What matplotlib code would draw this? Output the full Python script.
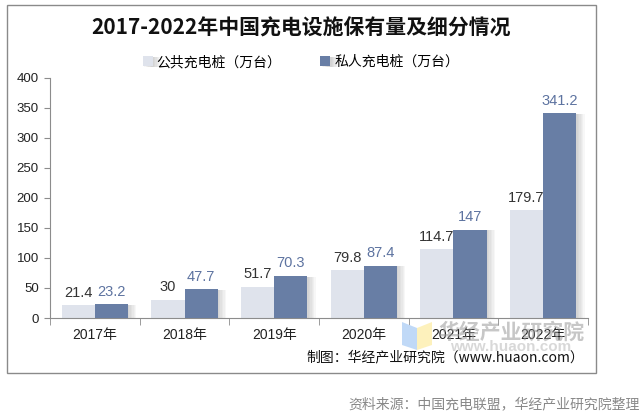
import numpy as np
import matplotlib.pyplot as plt
import matplotlib.patheffects as pe
from matplotlib.patches import Rectangle, Polygon

plt.rcParams['font.family'] = ['Liberation Sans', 'Noto Sans CJK SC', 'DejaVu Sans']

# 数据
years = ['2017年', '2018年', '2019年', '2020年', '2021年', '2022年']
public_piles = [21.4, 30, 51.7, 79.8, 114.7, 179.7]
private_piles = [23.2, 47.7, 70.3, 87.4, 147, 341.2]
public_labels = ['21.4', '30', '51.7', '79.8', '114.7', '179.7']
private_labels = ['23.2', '47.7', '70.3', '87.4', '147', '341.2']

c_public = '#dfe3ec'
c_private = '#687ea5'
c_axis = '#8c8c8c'

fig = plt.figure(figsize=(6.42, 4.19), dpi=100)
W, H = 642, 419

# 外框
fig.patches.append(Rectangle((7 / W, 1 - 373 / H), 589 / W, 368 / H, transform=fig.transFigure,
                             fill=False, edgecolor='#8a8a8a', linewidth=1.0))

ax = fig.add_axes([50 / W, 1 - 318 / H, 538 / W, 240 / H])

x = np.arange(len(years))
bw = 0.37
# 柔和阴影
shadow = [pe.SimplePatchShadow(offset=(k, -0.5), shadow_rgbFace='#666666', alpha=0.05) for k in (1, 2, 3, 4, 5, 6)]
shadow.append(pe.Normal())

b1 = ax.bar(x - bw / 2, public_piles, bw, color=c_public, label='公共充电桩（万台）', zorder=2)
b2 = ax.bar(x + bw / 2, private_piles, bw, color=c_private, label='私人充电桩（万台）', zorder=3)
for b in list(b1) + list(b2):
    b.set_path_effects(shadow)

for xi, v, t in zip(x, public_piles, public_labels):
    ax.annotate(t, (xi - bw / 2, v), xytext=(0, 4), textcoords='offset points',
                ha='center', va='bottom', fontsize=10.5, color='#333333')
for xi, v, t in zip(x, private_piles, private_labels):
    ax.annotate(t, (xi + bw / 2, v), xytext=(0, 4), textcoords='offset points',
                ha='center', va='bottom', fontsize=10.5, color='#5d73a0')

ax.set_xlim(-0.5, len(years) - 0.5)
ax.set_ylim(0, 400)
ax.set_yticks(np.arange(0, 401, 50))
ax.set_xticks(x)
ax.set_xticklabels(years)
ax.set_xticks(np.arange(-0.5, len(years), 1), minor=True)
ax.tick_params(axis='x', which='major', length=0, pad=7, labelsize=10, labelcolor='#222222')
ax.tick_params(axis='x', which='minor', length=5, direction='out', color=c_axis)
ax.tick_params(axis='y', length=4, direction='out', color=c_axis, labelsize=9.5, labelcolor='#222222', pad=4)
for s in ['top', 'right']:
    ax.spines[s].set_visible(False)
for s in ['left', 'bottom']:
    ax.spines[s].set_color(c_axis)

# 标题和图例
fig.text(301 / W, 1 - 28 / H, '2017-2022年中国充电设施保有量及细分情况', ha='center', va='center',
         fontsize=15, fontweight='bold', family=['Noto Sans CJK SC'], color='#111111')
fig.legend(handles=[b1, b2], loc='center', bbox_to_anchor=(301 / W, 1 - 62 / H), ncol=2, frameon=False,
           handlelength=0.7, handleheight=0.7, handletextpad=0.3, columnspacing=2.8,
           prop={'family': ['Noto Sans CJK SC'], 'size': 10})

# 水印
fig.patches.append(Polygon([(402 / W, 1 - 322 / H), (417 / W, 1 - 328 / H), (417 / W, 1 - 350 / H),
                            (402 / W, 1 - 345 / H)], closed=True, transform=fig.transFigure,
                           facecolor='#b9d5f7', edgecolor='none', alpha=0.9, zorder=5))
fig.patches.append(Polygon([(417 / W, 1 - 328 / H), (432 / W, 1 - 322 / H), (432 / W, 1 - 345 / H),
                            (417 / W, 1 - 350 / H)], closed=True, transform=fig.transFigure,
                           facecolor='#fdf0b5', edgecolor='none', alpha=0.9, zorder=5))
fig.text(511 / W, 1 - 332 / H, '华经产业研究院', ha='center', va='center', fontsize=15, fontweight='bold',
         family=['Noto Sans CJK SC'], color='#999999', alpha=0.55, zorder=6)
fig.text(511 / W, 1 - 347 / H, 'www.huaon.com', ha='center', va='center', fontsize=11, fontweight='bold',
         color='#aaaaaa', alpha=0.45, zorder=6)

fig.text(584 / W, 1 - 357 / H, '制图：华经产业研究院（www.huaon.com）', ha='right', va='center',
         fontsize=10, family=['Noto Sans CJK SC'], color='#111111', zorder=7)
fig.text(640 / W, 1 - 404 / H, '资料来源：中国充电联盟，华经产业研究院整理', ha='right', va='center',
         fontsize=10, family=['Noto Sans CJK SC'], color='#888888')

fig.savefig('out.png', dpi=100)
